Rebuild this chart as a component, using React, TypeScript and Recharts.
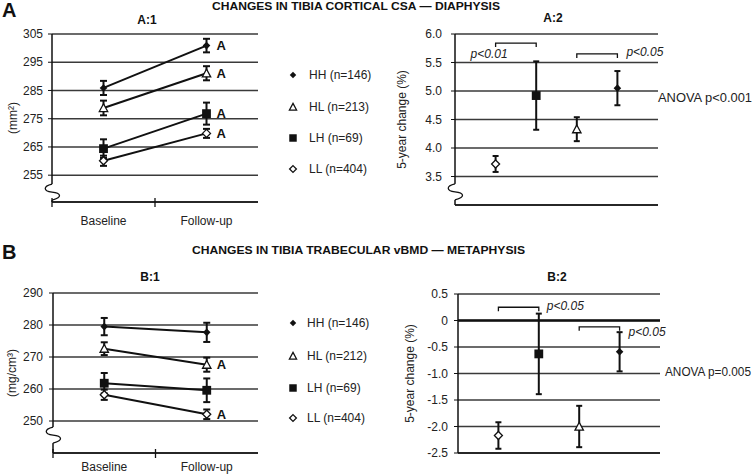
import React from "react";
import {
  CartesianGrid,
  ComposedChart,
  ErrorBar,
  LabelList,
  Line,
  ReferenceDot,
  ReferenceLine,
  Scatter,
  XAxis,
  YAxis,
} from "recharts";

const FONT = "'Liberation Sans', Arial, sans-serif";
const INK = "#111";
const GRID = "#3a3a3a";
const TEXT = "#222";

// groups as listed in the legends
const groups = ["HH", "HL", "LH", "LL"];
const timepoints = ["Baseline", "Follow-up"];

// A:1 cortical CSA (mm²), order HH, HL, LH, LL
const csaN = [146, 213, 69, 404];
const csaBaseline = [285.9, 278.8, 264.4, 260.1];
const csaBaselineSe = [2.5, 2.6, 3.3, 1.8];
const csaFollowUp = [300.9, 291.1, 276.8, 269.8];
const csaFollowUpSe = [2.4, 2.5, 3.9, 1.6];
const csaSig = [true, true, true, true];
const csaTicks = [255, 265, 275, 285, 295, 305];

// A:2 5-year change (%), order LL, LH, HL, HH
const changeOrder = ["LL", "LH", "HL", "HH"];
const csaChange = [3.72, 4.92, 4.33, 5.05];
const csaChangeSe = [0.14, 0.6, 0.21, 0.3];
const csaChangeTicks = [3.5, 4, 4.5, 5, 5.5, 6];
const csaPairs = [["LL", "LH"], ["HL", "HH"]];
const csaPLabels = ["p<0.01", "p<0.05"];

// B:1 trabecular vBMD (mg/cm³), order HH, HL, LH, LL
const vbmdN = [146, 212, 69, 404];
const vbmdBaseline = [279.5, 272.6, 261.8, 258.2];
const vbmdBaselineSe = [2.7, 2.0, 3.2, 1.6];
const vbmdFollowUp = [277.7, 267.6, 259.6, 252.1];
const vbmdFollowUpSe = [3.0, 2.2, 3.7, 1.5];
const vbmdSig = [false, true, false, true];
const vbmdTicks = [250, 260, 270, 280, 290];

// B:2 5-year change (%), order LL, LH, HL, HH
const vbmdChange = [-2.17, -0.63, -2.0, -0.59];
const vbmdChangeSe = [0.25, 0.76, 0.39, 0.37];
const vbmdChangeTicks = [-2.5, -2, -1.5, -1, -0.5, 0, 0.5];
const vbmdPairs = [["LL", "LH"], ["HL", "HH"]];
const vbmdPLabels = ["p<0.05", "p<0.05"];

function GroupMarker({ group, cx, cy, s = 1 }: { group: string; cx: number; cy: number; s?: number }) {
  if (group === "HH") {
    const r = 3.8 * s;
    return <path d={`M${cx},${cy - r}L${cx + r},${cy}L${cx},${cy + r}L${cx - r},${cy}Z`} fill={INK} />;
  }
  if (group === "HL") {
    const r = 4.2 * s;
    return (
      <path
        d={`M${cx},${cy - r}L${cx + r},${cy + r * 0.85}L${cx - r},${cy + r * 0.85}Z`}
        fill="#fff"
        stroke={INK}
        strokeWidth={1.3}
      />
    );
  }
  if (group === "LH") {
    const r = 4.4 * s;
    return <rect x={cx - r} y={cy - r} width={2 * r} height={2 * r} fill={INK} />;
  }
  const r = 4 * s;
  return (
    <path
      d={`M${cx},${cy - r}L${cx + r},${cy}L${cx},${cy + r}L${cx - r},${cy}Z`}
      fill="#fff"
      stroke={INK}
      strokeWidth={1.3}
    />
  );
}

function AxisBreak({ cx, cy }: { cx: number; cy: number }) {
  return (
    <g>
      <rect x={cx - 2} y={cy - 8} width={4} height={16} fill="#fff" />
      <path
        d={`M${cx},${cy - 8} C${cx - 9},${cy - 6} ${cx - 9},${cy - 1} ${cx},${cy} S${cx + 11},${cy + 5} ${cx},${cy + 8}`}
        fill="none"
        stroke={INK}
        strokeWidth={1.3}
      />
    </g>
  );
}

function axisTitle(text: string, x: number) {
  return {
    content: (p: any) => {
      const vb = p.viewBox;
      const cy = vb.y + vb.height / 2;
      return (
        <text
          transform={`translate(${x},${cy}) rotate(-90)`}
          textAnchor="middle"
          dominantBaseline="central"
          fontSize={12}
          fill={TEXT}
          fontFamily={FONT}
        >
          {text}
        </text>
      );
    },
  };
}

const timeTick = (labelDy: number) => (p: any) => {
  const v = p.payload.value as number;
  if (Number.isInteger(v)) {
    return <line x1={p.x} x2={p.x} y1={p.y - 4} y2={p.y + 5} stroke={INK} strokeWidth={1.3} />;
  }
  return (
    <text x={p.x} y={p.y + labelDy} textAnchor="middle" fontSize={12} fill={TEXT} fontFamily={FONT}>
      {timepoints[Math.floor(v)]}
    </text>
  );
};

interface TrendProps {
  left: number;
  top: number;
  height: number;
  plotTop: number;
  axisWidth: number;
  xAxisHeight: number;
  domain: [number, number];
  ticks: number[];
  breakAt: number;
  unit: string;
  unitX: number;
  labelDy: number;
  tickGap: number;
  baseline: number[];
  baselineSe: number[];
  followUp: number[];
  followUpSe: number[];
  sig: boolean[];
}

function TrendPanel(props: TrendProps) {
  const width = 268;
  const series = groups.map((g, gi) => ({
    group: g,
    data: timepoints.map((_, ti) => ({
      x: ti + 0.5,
      value: ti === 0 ? props.baseline[gi] : props.followUp[gi],
      err: ti === 0 ? props.baselineSe[gi] : props.followUpSe[gi],
      mark: ti === 1 && props.sig[gi] ? "A" : null,
    })),
  }));

  return (
    <div style={{ position: "absolute", left: props.left, top: props.top }}>
      <ComposedChart
        width={width}
        height={props.height}
        margin={{ top: props.plotTop, right: 10, left: 0, bottom: 0 }}
      >
        <CartesianGrid horizontal vertical={false} stroke={GRID} strokeWidth={1.4} />
        <XAxis
          type="number"
          dataKey="x"
          domain={[0, 2]}
          allowDataOverflow
          ticks={[0, 0.5, 1, 1.5]}
          interval={0}
          height={props.xAxisHeight}
          tickSize={0}
          tickMargin={0}
          tickLine={false}
          axisLine={{ stroke: INK, strokeWidth: 1.4 }}
          tick={timeTick(props.labelDy)}
        />
        <YAxis
          type="number"
          domain={props.domain}
          allowDataOverflow
          ticks={props.ticks}
          interval={0}
          width={props.axisWidth}
          tickSize={4}
          tickMargin={props.tickGap}
          axisLine={{ stroke: INK, strokeWidth: 1.5 }}
          tickLine={{ stroke: INK }}
          tick={{ fontSize: 12, fill: TEXT, fontFamily: FONT }}
          label={axisTitle(props.unit, props.unitX)}
        />
        {series.map((s) => (
          <Line
            key={s.group}
            data={s.data}
            dataKey="value"
            type="linear"
            stroke={INK}
            strokeWidth={2}
            activeDot={false}
            isAnimationActive={false}
            dot={(p: any) => <GroupMarker key={`${s.group}-${p.index}`} group={s.group} cx={p.cx} cy={p.cy} />}
          >
            <ErrorBar dataKey="err" direction="y" width={3.5} strokeWidth={2} stroke={INK} />
            <LabelList
              dataKey="mark"
              content={(p: any) =>
                p.value ? (
                  <text
                    x={p.x + 10}
                    y={p.y}
                    dominantBaseline="central"
                    fontSize={13}
                    fontWeight="bold"
                    fill={INK}
                    fontFamily={FONT}
                  >
                    {p.value}
                  </text>
                ) : null
              }
            />
          </Line>
        ))}
        <ReferenceDot
          x={0}
          y={props.breakAt}
          r={0}
          ifOverflow="visible"
          shape={(p: any) => <AxisBreak cx={p.cx} cy={p.cy} />}
        />
      </ComposedChart>
    </div>
  );
}

interface BracketStyle {
  side: "left" | "right";
  dx: number;
  dy: number;
}

interface ChangeProps {
  left: number;
  top: number;
  height: number;
  plotTop: number;
  axisWidth: number;
  rightGap: number;
  xAxisHeight: number;
  domain: [number, number];
  ticks: number[];
  tickGap: number;
  unitX: number;
  breakAt: number | null;
  zeroLine: boolean;
  values: number[];
  se: number[];
  pairs: string[][];
  pLabels: string[];
  bracketLevels: number[];
  bracketStyles: BracketStyle[];
}

function ChangePanel(props: ChangeProps) {
  const width = 280;
  const data = changeOrder.map((g, i) => ({ x: i + 1, y: props.values[i], err: props.se[i], group: g }));
  const fmt = (v: number) => (v === 0 ? "0" : v.toFixed(1));

  return (
    <div style={{ position: "absolute", left: props.left, top: props.top }}>
      <ComposedChart
        width={width}
        height={props.height}
        margin={{ top: props.plotTop, right: props.rightGap, left: 0, bottom: 0 }}
      >
        <CartesianGrid horizontal vertical={false} stroke={GRID} strokeWidth={1.4} />
        <XAxis
          type="number"
          dataKey="x"
          domain={[0, 5]}
          allowDataOverflow
          height={props.xAxisHeight}
          tick={false}
          tickLine={false}
          axisLine={{ stroke: INK, strokeWidth: 1.4 }}
        />
        <YAxis
          type="number"
          dataKey="y"
          domain={props.domain}
          allowDataOverflow
          ticks={props.ticks}
          interval={0}
          width={props.axisWidth}
          tickSize={4}
          tickMargin={props.tickGap}
          tickFormatter={fmt}
          axisLine={{ stroke: INK, strokeWidth: 1.5 }}
          tickLine={{ stroke: INK }}
          tick={{ fontSize: 12, fill: TEXT, fontFamily: FONT }}
          label={axisTitle("5-year change (%)", props.unitX)}
        />
        {props.zeroLine && <ReferenceLine y={0} stroke={INK} strokeWidth={2.6} />}
        {props.pairs.map((pair, i) => {
          const st = props.bracketStyles[i];
          const lvl = props.bracketLevels[i];
          return (
            <ReferenceLine
              key={`br-${i}`}
              segment={[
                { x: changeOrder.indexOf(pair[0]) + 1, y: lvl },
                { x: changeOrder.indexOf(pair[1]) + 1, y: lvl },
              ]}
              ifOverflow="visible"
              shape={(p: any) => (
                <g>
                  <path
                    d={`M${p.x1},${p.y1 + 4} V${p.y1} H${p.x2} V${p.y2 + 4}`}
                    fill="none"
                    stroke={INK}
                    strokeWidth={1.3}
                  />
                  <text
                    x={st.side === "left" ? p.x1 + st.dx : p.x2 + st.dx}
                    y={p.y1 + st.dy}
                    textAnchor={st.side === "left" ? "end" : "start"}
                    fontSize={12}
                    fontStyle="italic"
                    fill={TEXT}
                    fontFamily={FONT}
                  >
                    {props.pLabels[i]}
                  </text>
                </g>
              )}
            />
          );
        })}
        <Scatter
          data={data}
          dataKey="y"
          isAnimationActive={false}
          shape={(p: any) => <GroupMarker group={p.payload.group} cx={p.cx} cy={p.cy} />}
        >
          <ErrorBar dataKey="err" direction="y" width={3} strokeWidth={2} stroke={INK} />
        </Scatter>
        {props.breakAt !== null && (
          <ReferenceDot
            x={0}
            y={props.breakAt}
            r={0}
            ifOverflow="visible"
            shape={(p: any) => <AxisBreak cx={p.cx} cy={p.cy} />}
          />
        )}
      </ComposedChart>
    </div>
  );
}

function GroupLegend({ x, textX, rows, counts }: { x: number; textX: number; rows: number[]; counts: number[] }) {
  return (
    <g>
      {groups.map((g, i) => (
        <g key={g}>
          <GroupMarker group={g} cx={x} cy={rows[i]} s={0.85} />
          <text x={textX} y={rows[i]} dominantBaseline="central" fontSize={12} fill={TEXT} fontFamily={FONT}>
            {`${g} (n=${counts[i]})`}
          </text>
        </g>
      ))}
    </g>
  );
}

export default function App() {
  return (
    <div
      style={{
        position: "absolute",
        left: 0,
        top: 0,
        width: 755,
        height: 474,
        background: "#fff",
        overflow: "hidden",
        fontFamily: FONT,
      }}
    >
      <TrendPanel
        left={0}
        top={0}
        height={232}
        plotTop={34}
        axisWidth={52}
        xAxisHeight={30}
        domain={[245.5, 305]}
        ticks={csaTicks}
        breakAt={249}
        unit="(mm²)"
        unitX={13}
        labelDy={23}
        tickGap={5}
        baseline={csaBaseline}
        baselineSe={csaBaselineSe}
        followUp={csaFollowUp}
        followUpSe={csaFollowUpSe}
        sig={csaSig}
      />
      <ChangePanel
        left={390}
        top={0}
        height={232}
        plotTop={34}
        axisWidth={65}
        rightGap={12}
        xAxisHeight={27}
        domain={[3, 6]}
        ticks={csaChangeTicks}
        tickGap={9}
        unitX={12}
        breakAt={3.23}
        zeroLine={false}
        values={csaChange}
        se={csaChangeSe}
        pairs={csaPairs}
        pLabels={csaPLabels}
        bracketLevels={[5.84, 5.65]}
        bracketStyles={[
          { side: "left", dx: 12, dy: 15 },
          { side: "right", dx: 9, dy: 2 },
        ]}
      />
      <TrendPanel
        left={0}
        top={236}
        height={238}
        plotTop={57}
        axisWidth={53}
        xAxisHeight={21}
        domain={[240, 290]}
        ticks={vbmdTicks}
        breakAt={245.6}
        unit="(mg/cm³)"
        unitX={12}
        labelDy={18}
        tickGap={6}
        baseline={vbmdBaseline}
        baselineSe={vbmdBaselineSe}
        followUp={vbmdFollowUp}
        followUpSe={vbmdFollowUpSe}
        sig={vbmdSig}
      />
      <ChangePanel
        left={390}
        top={236}
        height={238}
        plotTop={58}
        axisWidth={68}
        rightGap={10}
        xAxisHeight={21}
        domain={[-2.5, 0.5]}
        ticks={vbmdChangeTicks}
        tickGap={6}
        unitX={20}
        breakAt={null}
        zeroLine
        values={vbmdChange}
        se={vbmdChangeSe}
        pairs={vbmdPairs}
        pLabels={vbmdPLabels}
        bracketLevels={[0.25, -0.12]}
        bracketStyles={[
          { side: "right", dx: 8, dy: 3 },
          { side: "right", dx: 9, dy: 9 },
        ]}
      />
      <svg
        width={755}
        height={474}
        style={{ position: "absolute", left: 0, top: 0, pointerEvents: "none" }}
        fontFamily={FONT}
      >
        <text x={2} y={17} fontSize={20} fontWeight="bold" fill={INK}>A</text>
        <text x={2} y={259} fontSize={20} fontWeight="bold" fill={INK}>B</text>
        <text x={212} y={10} fontSize={11.5} fontWeight="bold" fill={INK} textLength={288} lengthAdjust="spacingAndGlyphs">
          CHANGES IN TIBIA CORTICAL CSA — DIAPHYSIS
        </text>
        <text x={192} y={254} fontSize={11.5} fontWeight="bold" fill={INK} textLength={333} lengthAdjust="spacingAndGlyphs">
          CHANGES IN TIBIA TRABECULAR vBMD — METAPHYSIS
        </text>
        <text x={147} y={24} textAnchor="middle" fontSize={12} fontWeight="bold" fill={INK}>A:1</text>
        <text x={553} y={22} textAnchor="middle" fontSize={12} fontWeight="bold" fill={INK}>A:2</text>
        <text x={150} y={281} textAnchor="middle" fontSize={12} fontWeight="bold" fill={INK}>B:1</text>
        <text x={557} y={281} textAnchor="middle" fontSize={12} fontWeight="bold" fill={INK}>B:2</text>
        <GroupLegend x={293} textX={309} rows={[75, 107, 138, 169]} counts={csaN} />
        <GroupLegend x={293} textX={307} rows={[323, 356, 388, 418]} counts={vbmdN} />
        <text x={658} y={102} fontSize={12} fill={TEXT} textLength={94} lengthAdjust="spacingAndGlyphs">
          ANOVA p&lt;0.001
        </text>
        <text x={665} y={376} fontSize={12} fill={TEXT} textLength={86} lengthAdjust="spacingAndGlyphs">
          ANOVA p=0.005
        </text>
      </svg>
    </div>
  );
}
